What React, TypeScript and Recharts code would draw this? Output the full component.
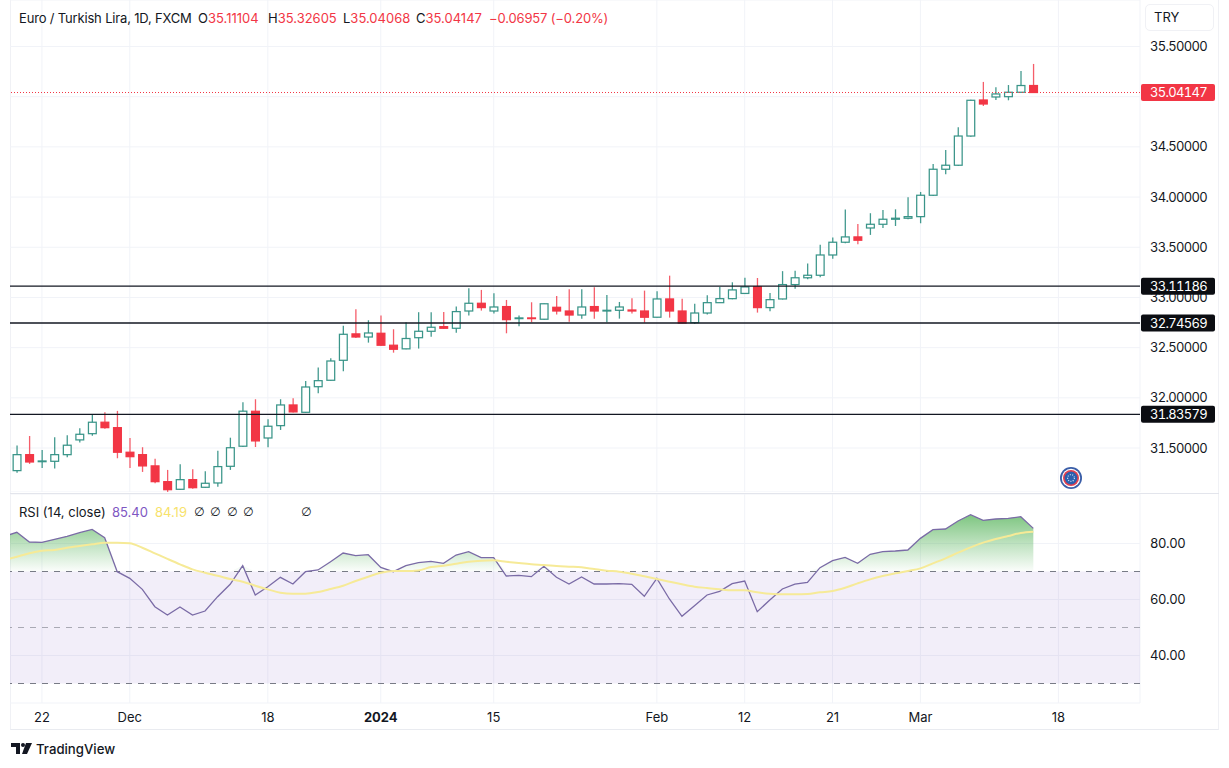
import React from "react";
import {
  ComposedChart, Bar, Line, Area, XAxis, YAxis, CartesianGrid, ReferenceLine, ReferenceArea,
} from "recharts";

const FONT = "Inter, 'Noto Sans', sans-serif";
const INK = "#131722";
const RED = "#f23645";
const TEAL = "#2f8f83";
const GRID = "#f1f3f8";

const dates = [
  "Nov 17", "Nov 20", "Nov 21", "Nov 22", "Nov 23", "Nov 24", "Nov 27", "Nov 28", "Nov 29", "Nov 30", "Dec 1",
  "Dec 4", "Dec 5", "Dec 6", "Dec 7", "Dec 8", "Dec 11", "Dec 12", "Dec 13", "Dec 14", "Dec 15",
  "Dec 18", "Dec 19", "Dec 20", "Dec 21", "Dec 22", "Dec 26", "Dec 27", "Dec 28", "Dec 29",
  "Jan 2", "Jan 3", "Jan 4", "Jan 5", "Jan 8", "Jan 9", "Jan 10", "Jan 11", "Jan 12",
  "Jan 15", "Jan 16", "Jan 17", "Jan 18", "Jan 19", "Jan 22", "Jan 23", "Jan 24", "Jan 25", "Jan 26",
  "Jan 29", "Jan 30", "Jan 31", "Feb 1", "Feb 2", "Feb 5", "Feb 6", "Feb 7", "Feb 8", "Feb 9",
  "Feb 12", "Feb 13", "Feb 14", "Feb 15", "Feb 16", "Feb 19", "Feb 20", "Feb 21", "Feb 22", "Feb 23",
  "Feb 26", "Feb 27", "Feb 28", "Feb 29", "Mar 1", "Mar 4", "Mar 5", "Mar 6", "Mar 7", "Mar 8",
  "Mar 11", "Mar 12", "Mar 13", "Mar 14", "Mar 15", "Mar 18", "Mar 19", "Mar 20", "Mar 21", "Mar 22", "Mar 25", "Mar 26",
];

const opens = [
  31.275, 31.434, 31.364, 31.368, 31.434, 31.581, 31.643, 31.757, 31.703, 31.458,
  31.434, 31.322, 31.165, 31.089, 31.185, 31.109, 31.152, 31.318, 31.518, 31.866,
  31.6, 31.723, 31.929, 31.856, 32.111, 32.175, 32.374, 32.637, 32.606, 32.643,
  32.524, 32.488, 32.599, 32.663, 32.709, 32.693, 32.865, 32.942, 32.865, 32.909,
  32.789, 32.796, 32.783, 32.902, 32.865, 32.825, 32.909, 32.865, 32.872, 32.875,
  32.865, 32.803, 32.985, 32.865, 32.749, 32.845, 32.948, 32.988, 33.04, 33.108,
  32.899, 32.985, 33.128, 33.196, 33.221, 33.423, 33.55, 33.603, 33.692, 33.729,
  33.779, 33.789, 33.805, 34.018, 34.277, 34.317, 34.608, 34.967, 34.997, 35.0,
  35.044, 35.11104,
];
const highs = [
  31.524, 31.62, 31.481, 31.607, 31.627, 31.697, 31.84, 31.857, 31.87, 31.6,
  31.508, 31.394, 31.282, 31.339, 31.289, 31.269, 31.474, 31.603, 31.957, 31.986,
  31.787, 31.986, 31.996, 32.167, 32.301, 32.394, 32.719, 32.882, 32.773, 32.819,
  32.683, 32.753, 32.853, 32.853, 32.856, 32.909, 33.092, 33.075, 33.042, 32.975,
  32.819, 32.952, 32.94, 33.015, 33.082, 33.082, 33.102, 33.025, 32.955, 32.992,
  33.068, 33.062, 33.217, 32.988, 32.937, 33.022, 33.105, 33.151, 33.197, 33.194,
  33.045, 33.262, 33.265, 33.337, 33.526, 33.596, 33.875, 33.732, 33.839, 33.871,
  33.878, 33.998, 34.051, 34.33, 34.469, 34.695, 34.97, 35.147, 35.094, 35.116,
  35.256, 35.32605,
];
const lows = [
  31.255, 31.342, 31.302, 31.295, 31.408, 31.554, 31.623, 31.693, 31.398, 31.302,
  31.262, 31.149, 31.063, 31.085, 31.095, 31.105, 31.115, 31.282, 31.51, 31.51,
  31.508, 31.68, 31.855, 31.852, 32.046, 32.17, 32.266, 32.596, 32.55, 32.52,
  32.45, 32.484, 32.491, 32.609, 32.686, 32.649, 32.819, 32.869, 32.839, 32.643,
  32.713, 32.753, 32.779, 32.829, 32.759, 32.789, 32.789, 32.753, 32.789, 32.839,
  32.749, 32.8, 32.799, 32.742, 32.736, 32.829, 32.945, 32.982, 33.038, 32.849,
  32.862, 32.98, 33.086, 33.181, 33.201, 33.386, 33.54, 33.53, 33.623, 33.692,
  33.712, 33.78, 33.739, 34.011, 34.227, 34.31, 34.6, 34.907, 34.967, 34.964,
  35.04, 35.04068,
];
const closes = [
  31.434, 31.361, 31.371, 31.434, 31.528, 31.637, 31.757, 31.703, 31.458, 31.414,
  31.322, 31.165, 31.085, 31.185, 31.105, 31.149, 31.315, 31.503, 31.867, 31.571,
  31.717, 31.929, 31.86, 32.108, 32.171, 32.367, 32.633, 32.606, 32.646, 32.524,
  32.484, 32.591, 32.663, 32.703, 32.693, 32.859, 32.942, 32.899, 32.905, 32.779,
  32.796, 32.789, 32.937, 32.865, 32.825, 32.905, 32.865, 32.872, 32.905, 32.865,
  32.803, 32.985, 32.865, 32.745, 32.845, 32.948, 32.988, 33.075, 33.105, 32.899,
  32.978, 33.128, 33.196, 33.221, 33.423, 33.55, 33.603, 33.57, 33.729, 33.779,
  33.789, 33.805, 34.018, 34.277, 34.317, 34.608, 34.964, 34.927, 35.027, 35.044,
  35.111, 35.04147,
];

// first value belongs to the partly hidden session before the first visible candle
const rsiValues = [
  82.6, 83.99, 80.53, 80.42, 81.49, 82.56, 83.87, 85.06, 82.08, 69.94, 67.56,
  63.63, 57.44, 54.46, 57.32, 54.46, 55.89, 61.01, 65.42, 72.08, 61.61,
  64.58, 67.92, 65.53, 69.94, 70.54, 73.51, 76.61, 75.65, 76.01, 71.49,
  69.94, 72.08, 73.15, 73.63, 72.92, 75.89, 77.08, 74.94, 74.94, 68.39,
  68.63, 68.15, 71.84, 67.92, 65.53, 68.04, 65.53, 65.53, 65.65, 65.42,
  61.13, 67.56, 60.18, 53.99, 57.8, 61.61, 62.92, 65.65, 66.6, 55.65,
  59.82, 63.75, 65.53, 66.13, 71.37, 73.87, 75.06, 72.92, 76.13, 77.08,
  77.32, 77.68, 81.84, 84.94, 85.18, 88.03, 90.3, 88.27, 88.75, 88.99,
  89.58, 85.4,
];
const rsiMa = [
  74.1, 75.3, 76.5, 77.44, 77.68, 78.5, 79.1, 79.7, 80.3, 80.3, 80.06,
  78.5, 76.5, 74.5, 72.56, 70.77, 69.58, 68.5, 67.3, 66.37, 64.94,
  63.63, 62.44, 62.08, 62.08, 62.68, 63.75, 64.94, 66.6, 68.15, 69.58,
  70.18, 70.18, 70.4, 71.6, 72.08, 72.8, 73.5, 73.87, 74, 73.5,
  73, 72.56, 72.32, 71.96, 71.72, 71.49, 70.89, 70.3, 69.94, 69.2,
  68.27, 67.32, 66.37, 65.42, 64.58, 64.1, 63.63, 63.27, 63.27, 62.56,
  62.08, 61.84, 61.84, 61.96, 62.56, 63.03, 64.22, 65.77, 67.2, 68.39,
  69.34, 70.18, 71.13, 72.92, 74.7, 76.73, 78.63, 80.3, 81.61, 82.68,
  83.75, 84.19,
];

const priceTicks = [35.5, 35, 34.5, 34, 33.5, 33, 32.5, 32, 31.5];
const priceTickLabels = ["35.50000", "", "34.50000", "34.00000", "33.50000", "33.00000", "32.50000", "32.00000", "31.50000"];
const rsiTicks = [80, 60, 40];
const rsiLevels = [70, 50, 30];
const timeTicks = ["Nov 22", "Dec 1", "Dec 18", "Jan 2", "Jan 15", "Feb 1", "Feb 12", "Feb 21", "Mar 1", "Mar 18"];
const timeLabels = ["22", "Dec", "18", "2024", "15", "Feb", "12", "21", "Mar", "18"];
const drawnLevels = [
  { value: 33.11186, label: "33.11186" },
  { value: 32.74569, label: "32.74569" },
  { value: 31.83579, label: "31.83579" },
];
const lastClose = 35.04147;
const lastCloseLabel = "35.04147";
const priceDomain = [31.062, 35.963];

const priceRows = dates.map((date, i) => {
  const k = i - 1;
  return k >= 0 && k < opens.length
    ? { date, open: opens[k], high: highs[k], low: lows[k], close: closes[k] }
    : { date };
});
const rsiRows = dates.map((date, i) =>
  i < rsiValues.length
    ? { date, rsi: rsiValues[i], ma: rsiMa[i], over: Math.max(rsiValues[i], 70) }
    : { date }
);

const Candle = (props: any) => {
  const { x, y, width, height, payload } = props;
  if (payload == null || payload.open == null || !(height > 0)) return null;
  const { open, high, low, close } = payload;
  const toY = (v: number) => y + ((high - v) / (high - low)) * height;
  const up = close >= open;
  const top = toY(Math.max(open, close));
  const bottom = toY(Math.min(open, close));
  const cx = x + width / 2;
  const color = up ? TEAL : RED;
  return (
    <g>
      <line x1={cx} x2={cx} y1={y} y2={y + height} stroke={color} strokeOpacity={up ? 0.9 : 0.8} strokeWidth={1.3} />
      <rect
        x={x + 0.6}
        y={top}
        width={width - 1.2}
        height={Math.max(bottom - top, 0.4)}
        fill={up ? "#ffffff" : color}
        stroke={color}
        strokeOpacity={up ? 0.95 : 1}
        strokeWidth={1.25}
      />
    </g>
  );
};

const priceNumberStyle: React.CSSProperties = { fontVariantNumeric: "tabular-nums", letterSpacing: -0.7 };
const rsiNumberStyle: React.CSSProperties = { fontVariantNumeric: "tabular-nums", letterSpacing: -0.4 };

const tag = (text: string, fill: string) => (props: any) => {
  const vb = props.viewBox || {};
  const right = vb.x + vb.width;
  const cy = vb.y;
  return (
    <g>
      <rect x={right + 1} y={cy - 8.5} width={74} height={17} rx={2} fill={fill} />
      <text x={right + 10} y={cy + 4.6} fontFamily={FONT} fontSize={13} fill="#ffffff" style={priceNumberStyle}>
        {text}
      </text>
    </g>
  );
};

const TimeTick = (props: any) => {
  const { x, y, payload } = props;
  const label = timeLabels[timeTicks.indexOf(payload.value)];
  const year = label === "2024";
  return (
    <text x={x} y={y} textAnchor="middle" fontFamily={FONT} fontSize={13} fontWeight={year ? 700 : 400} fill={INK} dy={4.5}>
      {label}
    </text>
  );
};

const PriceTick = (props: any) => {
  const { x, y, payload } = props;
  const label = priceTickLabels[priceTicks.indexOf(payload.value)];
  if (!label) return null;
  return (
    <text x={x} y={y} dy={4.6} textAnchor="start" fontFamily={FONT} fontSize={13} fill={INK} style={priceNumberStyle}>
      {label}
    </text>
  );
};

const RsiTick = (props: any) => {
  const { x, y, payload } = props;
  return (
    <text x={x} y={y} dy={4.6} textAnchor="start" fontFamily={FONT} fontSize={13} fill={INK} style={rsiNumberStyle}>
      {Number(payload.value).toFixed(2)}
    </text>
  );
};

const legendText: React.CSSProperties = {
  position: "absolute", fontFamily: FONT, fontSize: 13, lineHeight: "18px", whiteSpace: "nowrap", color: INK,
};
const ohlc = [
  { k: "O", v: "35.11104", left: 198 },
  { k: "H", v: "35.32605", left: 268 },
  { k: "L", v: "35.04068", left: 343 },
  { k: "C", v: "35.04147", left: 416 },
];
const noteMarks = [199, 215, 232, 248, 306];

export default function App() {
  const clip: React.CSSProperties = { position: "absolute", left: -2, clipPath: "inset(0 0 0 12px)" };
  return (
    <div style={{ position: "absolute", left: 0, top: 0, width: 1229, height: 768, background: "#fff", overflow: "hidden" }}>
      <div style={{ position: "absolute", left: 10, top: 0, width: 1209, height: 730, borderLeft: "1px solid #f0f1f5", borderRight: "1px solid #f0f1f5", borderBottom: "1px solid #e9ebf0", boxSizing: "border-box" }} />
      <div style={{ position: "absolute", left: 10, top: 493, width: 1209, height: 1, background: "#e3e5ec" }} />

      <div style={{ ...clip, top: 0 }}>
        <ComposedChart width={1231} height={492} data={priceRows} margin={{ top: 0, right: 0, bottom: 0, left: 0 }} barSize={9}>
          <CartesianGrid stroke={GRID} horizontal vertical />
          <XAxis dataKey="date" ticks={timeTicks} interval={0} hide />
          <YAxis
            orientation="right"
            width={89}
            domain={priceDomain}
            allowDataOverflow
            ticks={priceTicks}
            interval={0}
            axisLine={false}
            tickLine={false}
            tickSize={0}
            tickMargin={10}
            tick={<PriceTick />}
          />
          <Bar
            dataKey={(d: any) => (d.open == null ? null : [d.low, d.high])}
            shape={<Candle />}
            isAnimationActive={false}
          />
        </ComposedChart>
      </div>

      <div style={{ ...clip, top: 0, pointerEvents: "none" }}>
        <ComposedChart width={1231} height={492} data={priceRows} margin={{ top: 0, right: 0, bottom: 0, left: 0 }} barSize={9}>
          <XAxis dataKey="date" scale="band" hide />
          <YAxis orientation="right" width={89} domain={priceDomain} allowDataOverflow tick={false} axisLine={false} tickLine={false} />
          <ReferenceLine y={lastClose} stroke={RED} strokeDasharray="1 2" strokeWidth={1} label={tag(lastCloseLabel, RED)} />
          {drawnLevels.map((l) => (
            <ReferenceLine key={l.label} y={l.value} stroke={INK} strokeWidth={1.3} label={tag(l.label, "#0b0d12")} />
          ))}
        </ComposedChart>
      </div>

      <div style={{ ...clip, top: 494 }}>
        <ComposedChart width={1231} height={236} data={rsiRows} margin={{ top: 0, right: 0, bottom: 0, left: 0 }}>
          <defs>
            <linearGradient id="rsiOver" x1="0" y1="0" x2="0" y2="1">
              <stop offset="0%" stopColor="#4caf50" stopOpacity={0.72} />
              <stop offset="100%" stopColor="#4caf50" stopOpacity={0.02} />
            </linearGradient>
          </defs>
          <CartesianGrid stroke={GRID} horizontal vertical />
          <XAxis
            dataKey="date"
            scale="band"
            ticks={timeTicks}
            interval={0}
            height={27}
            axisLine={false}
            tickLine={false}
            tickSize={0}
            tickMargin={14}
            tick={<TimeTick />}
          />
          <YAxis
            orientation="right"
            width={89}
            domain={[23.04, 97.68]}
            allowDataOverflow
            ticks={rsiTicks}
            interval={0}
            axisLine={false}
            tickLine={false}
            tickSize={0}
            tickMargin={10}
            tick={<RsiTick />}
          />
          <ReferenceArea y1={rsiLevels[2]} y2={rsiLevels[0]} fill="#7e57c2" fillOpacity={0.1} stroke="none" />
          <ReferenceLine y={rsiLevels[0]} stroke="#787b86" strokeDasharray="6 6" strokeWidth={1} />
          <ReferenceLine y={rsiLevels[1]} stroke="#787b86" strokeOpacity={0.6} strokeDasharray="6 6" strokeWidth={1} />
          <ReferenceLine y={rsiLevels[2]} stroke="#787b86" strokeDasharray="6 6" strokeWidth={1} />
          <Area type="linear" dataKey="over" baseValue={70} stroke="none" fill="url(#rsiOver)" fillOpacity={1} dot={false} activeDot={false} isAnimationActive={false} />
          <Line type="linear" dataKey="rsi" stroke="#7a6ba6" strokeWidth={1.3} dot={false} activeDot={false} isAnimationActive={false} />
          <Line type="monotone" dataKey="ma" stroke="#f6ea97" strokeWidth={2} dot={false} activeDot={false} isAnimationActive={false} />
        </ComposedChart>
      </div>

      <div style={{ ...legendText, left: 19, top: 9, letterSpacing: -0.17 }}>Euro / Turkish Lira, 1D, FXCM</div>
      {ohlc.map((o) => (
        <div key={o.k} style={{ ...legendText, left: o.left, top: 9 }}>
          {o.k}
          <span style={{ color: RED }}>{o.v}</span>
        </div>
      ))}
      <div style={{ ...legendText, left: 489, top: 9, color: RED, letterSpacing: -0.15 }}>−0.06957 (−0.20%)</div>

      <div style={{ ...legendText, left: 19, top: 503 }}>RSI (14, close)</div>
      <div style={{ ...legendText, left: 112, top: 503, color: "#7e57c2" }}>85.40</div>
      <div style={{ ...legendText, left: 155, top: 503, color: "#f7e26b" }}>84.19</div>
      {noteMarks.map((left) => (
        <div key={left} style={{ ...legendText, left: left - 5, top: 503, fontFamily: "'DejaVu Sans'", fontSize: 12 }}>∅</div>
      ))}

      <div style={{ position: "absolute", left: 1145, top: 4, width: 69, height: 27, border: "1px solid #f0f1f5", borderRadius: 5, boxSizing: "border-box", fontFamily: FONT, fontSize: 13, lineHeight: "25px", paddingLeft: 8, color: INK }}>
        TRY
      </div>

      <svg style={{ position: "absolute", left: 1059, top: 466 }} width={24} height={24} viewBox="0 0 24 24">
        <circle cx={12} cy={12} r={11} fill="#3a5ea8" />
        <circle cx={12} cy={12} r={9.2} fill="#ffffff" />
        <circle cx={12} cy={12} r={8} fill="#e4404e" />
        <circle cx={12} cy={12} r={6.4} fill="#2b5fae" />
        <circle cx={12} cy={12} r={3.4} fill="none" stroke="#cfe0f5" strokeWidth={1.2} strokeDasharray="1 1.4" />
      </svg>

      <svg style={{ position: "absolute", left: 11, top: 743 }} width={21} height={12} viewBox="0 0 21 12">
        <path d="M0 0h9v11H5V4H0z" fill="#131722" />
        <circle cx={12} cy={2} r={2} fill="#131722" />
        <path d="M15 0h6l-5 11h-5z" fill="#131722" />
      </svg>
      <div style={{ ...legendText, left: 36, top: 740, fontSize: 13.2, fontWeight: 500 }}>TradingView</div>
    </div>
  );
}
